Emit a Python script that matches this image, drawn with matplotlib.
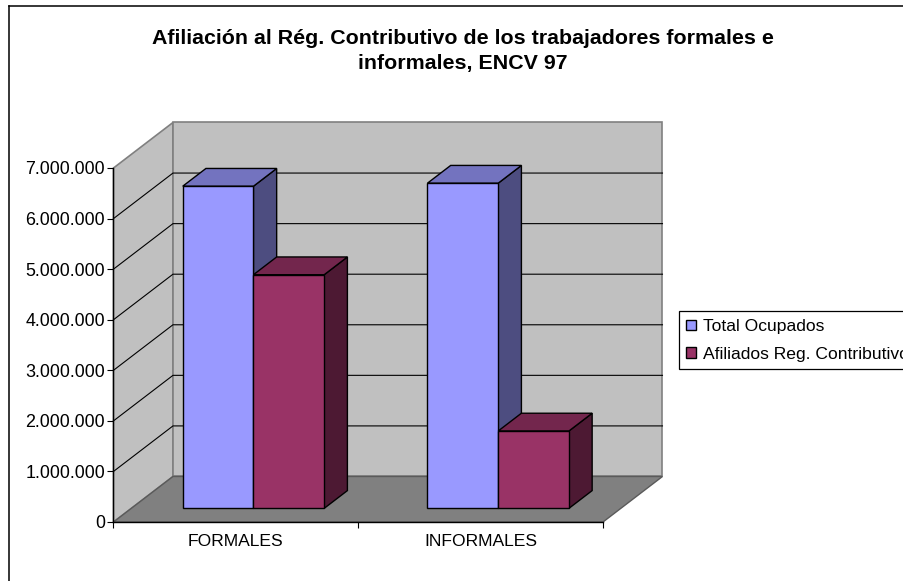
import matplotlib
matplotlib.use("Agg")
import matplotlib.pyplot as plt
from matplotlib.lines import Line2D
from matplotlib.patches import Polygon, Patch
from matplotlib.ticker import FuncFormatter

plt.rcParams['font.family'] = ['Liberation Sans', 'DejaVu Sans']

# Values
categories = ['FORMALES', 'INFORMALES']
total_ocupados = [6370000, 6430000]
afiliados = [4620000, 1530000]
series_names = ['Total Ocupados', 'Afiliados Reg. Contributivo']
y_ticks = [0, 1000000, 2000000, 3000000, 4000000, 5000000, 6000000, 7000000]

title = 'Afiliación al Rég. Contributivo de los trabajadores formales e\ninformales, ENCV 97'

# 3D look: how far the back wall sits behind the front plane, in axis units
DEPTH_X = 0.243
DEPTH_Y = 900000
BAR_WIDTH = 0.289
BAR_START = 0.21
BAR_DEPTH_FRONT = 0.30
BAR_DEPTH = 0.39

WALL = '#c0c0c0'
FLOOR = '#808080'
EDGE = '#808080'

W, H = 904, 581
fig = plt.figure(figsize=(W / 100, H / 100), dpi=100)
ax = fig.add_axes([113.5 / W, 1 - 522 / H, (603 - 113.5) / W, (522 - 168) / H])
ax.set_xlim(0, 2)
ax.set_ylim(0, 7000000)
ax.patch.set_visible(False)


def add_poly(points, color, z, edge='black', lw=1.0):
    ax.add_patch(Polygon(points, closed=True, facecolor=color, edgecolor=edge,
                         linewidth=lw, zorder=z, clip_on=False, joinstyle='miter'))


# Walls and floor
add_poly([(0, 0), (DEPTH_X, DEPTH_Y), (DEPTH_X, 7000000 + DEPTH_Y), (0, 7000000)], WALL, 1, EDGE, 1.2)
add_poly([(DEPTH_X, DEPTH_Y), (2 + DEPTH_X, DEPTH_Y), (2 + DEPTH_X, 7000000 + DEPTH_Y),
          (DEPTH_X, 7000000 + DEPTH_Y)], WALL, 1, EDGE, 1.2)
add_poly([(0, 0), (2, 0), (2 + DEPTH_X, DEPTH_Y), (DEPTH_X, DEPTH_Y)], FLOOR, 1.5, '#5a5a5a', 1.0)

# Gridlines run along the side wall and then the back wall
for v in y_ticks[1:-1]:
    ax.plot([0, DEPTH_X, 2 + DEPTH_X], [v, v + DEPTH_Y, v + DEPTH_Y], color='black',
            linewidth=0.8, zorder=2, clip_on=False)


def draw_bars(values, offset, front, top, side, z):
    # front face through ax.bar, then the top and side faces from the same value
    dx0 = BAR_DEPTH_FRONT * DEPTH_X
    dy0 = BAR_DEPTH_FRONT * DEPTH_Y
    dx = BAR_DEPTH * DEPTH_X
    dy = BAR_DEPTH * DEPTH_Y
    for i, v in enumerate(values):
        x0 = i + BAR_START + dx0 + offset * BAR_WIDTH
        x1 = x0 + BAR_WIDTH
        add_poly([(x1, dy0), (x1 + dx, dy0 + dy), (x1 + dx, dy0 + v + dy), (x1, dy0 + v)], side, z)
        add_poly([(x0, dy0 + v), (x0 + dx, dy0 + v + dy), (x1 + dx, dy0 + v + dy), (x1, dy0 + v)], top, z)
        ax.bar(x0, v, width=BAR_WIDTH, bottom=dy0, align='edge', color=front, edgecolor='black',
               linewidth=1.0, zorder=z + 0.1, clip_on=False)


draw_bars(total_ocupados, 0, '#9999ff', '#7373bf', '#4d4d80', 3)
draw_bars(afiliados, 1, '#993366', '#73264d', '#4d1933', 4)

# Axes
for name in ['top', 'right']:
    ax.spines[name].set_visible(False)
for name in ['left', 'bottom']:
    ax.spines[name].set_linewidth(1.0)
    ax.spines[name].set_zorder(6)
ax.set_yticks(y_ticks)
ax.yaxis.set_major_formatter(FuncFormatter(lambda v, pos: f'{int(v):,}'.replace(',', '.')))
ax.set_xticks([0, 1, 2])
ax.set_xticklabels([])
ax.set_xticks([0.5, 1.5], minor=True)
ax.set_xticklabels(categories, minor=True)
ax.tick_params(axis='y', length=4.5, width=0.8, pad=1.5, labelsize=12.9, colors='black')
ax.tick_params(axis='x', which='major', length=4.5, width=0.8)
ax.tick_params(axis='x', which='minor', length=0, pad=9, labelsize=12.6)

# Title sits over the whole chart area
fig.text(463 / W, 1 - 51 / H, title, ha='center', va='center', fontsize=15.4,
         fontweight='bold', linespacing=1.4)

# Legend runs off the right edge in the source image
handles = [Patch(facecolor='#9999ff', edgecolor='black', linewidth=1.0),
           Patch(facecolor='#993366', edgecolor='black', linewidth=1.0)]
leg = fig.legend(handles, series_names, loc='upper left',
                 bbox_to_anchor=(678.7 / W, 1 - 311.3 / H), fontsize=12.6, fancybox=False,
                 edgecolor='black', framealpha=1, borderaxespad=0, borderpad=0.44,
                 handlelength=0.55, handleheight=0.55, handletextpad=0.38, labelspacing=0.72)
leg.get_frame().set_linewidth(0.9)

# Outer chart border: only left and top fall inside the image
fig.add_artist(Line2D([8.5 / W, 8.5 / W], [0, 1 - 5.5 / H], color='black', linewidth=1.1))
fig.add_artist(Line2D([8.5 / W, 1], [1 - 5.5 / H, 1 - 5.5 / H], color='black', linewidth=1.1))

fig.savefig('out.png', dpi=100)
